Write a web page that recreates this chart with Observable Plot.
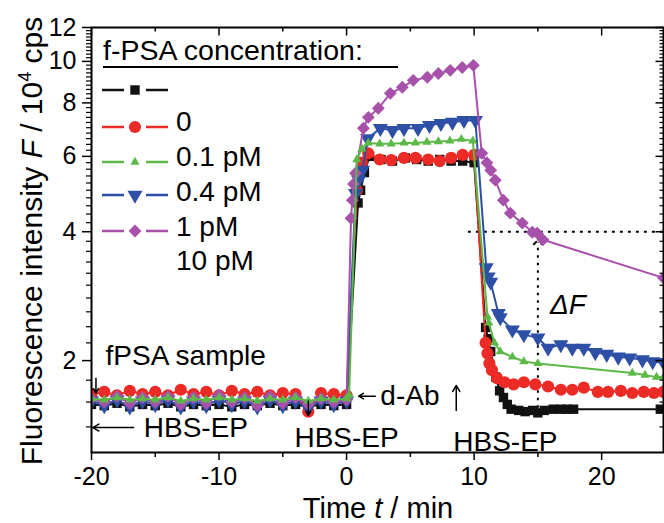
<!DOCTYPE html>
<html><head><meta charset="utf-8">
<script src="https://cdn.jsdelivr.net/npm/d3@7"></script>
<script src="https://cdn.jsdelivr.net/npm/@observablehq/plot@0.6"></script>
<style>
body{margin:0;background:#fff;}
#chart{width:664px;height:523px;}
svg{font-family:"Liberation Sans",Arial,sans-serif;}
</style></head><body><div id="chart"></div>
<script>
// ---------- data (F in 10^4 cps, t in min) ----------
const baseT = [-20,-19,-18,-17,-16,-15,-14,-13,-12,-11,-10,-9,-8,-7,-6,-5,-4,-3,-2,-1,0];

const blackT = [0.9,1.1,1.4,1.8,2.7,3.6,4.6,5.5,6.4,7.3,8.2,9.1,10.0,
  10.9,11.1,11.3,11.7,12.0,12.3,12.6,12.9,13.5,14.0,14.6,15.0,15.5,16.2,16.8,17.3,17.8,24.6];
const blackBase = [1.58,1.57,1.59,1.56,1.58,1.57,1.59,1.56,1.58,1.57,1.58,1.56,1.58,1.57,1.59,1.57,1.58,1.56,1.58,1.57,1.58];
const blackF = [4.67,5.0,5.5,6.0,5.9,5.85,5.95,5.9,5.85,5.9,5.85,5.85,5.8,
  2.39,2.25,2.1,1.83,1.70,1.64,1.58,1.54,1.53,1.52,1.53,1.51,1.53,1.54,1.54,1.54,1.54,1.54];

const redT = [0.8,1.2,1.7,2.6,3.5,4.5,5.4,6.4,7.3,8.2,9.1,10.0,
  10.9,11.05,11.2,11.4,11.8,12.4,13.1,13.9,14.8,15.8,16.8,17.7,18.6,19.7,20.5,21.5,22.4,23.3,24.1,24.85];
const redBase = [1.67,1.69,1.66,1.70,1.67,1.69,1.66,1.71,1.67,1.69,1.66,1.70,1.67,1.69,1.66,1.68,1.67,1.52,1.68,1.67,1.66];
const redF = [5.0,5.8,6.1,5.9,5.88,5.95,5.95,5.9,5.85,5.95,6.05,6.05,
  2.2,2.08,1.97,1.90,1.82,1.78,1.76,1.78,1.76,1.74,1.71,1.71,1.73,1.69,1.69,1.70,1.68,1.69,1.68,1.69];

const greenT = [0.2,0.8,1.2,1.7,2.6,3.5,4.5,5.4,6.3,7.2,8.1,9.0,9.9,
  11.05,11.15,11.6,12.05,13.0,13.9,15.0,22.4,23.4,24.3,24.85];
const greenBase = [1.63,1.62,1.64,1.62,1.63,1.62,1.64,1.61,1.63,1.62,1.64,1.62,1.63,1.61,1.63,1.62,1.64,1.61,1.63,1.62,1.63];
const greenF = [1.66,5.9,6.25,6.45,6.42,6.42,6.45,6.45,6.48,6.5,6.52,6.58,6.52,
  2.53,2.45,2.20,2.10,2.04,1.99,1.97,1.87,1.85,1.83,1.83];

const blueT = [0.7,0.95,1.25,1.65,2.65,3.6,4.5,5.6,6.5,7.4,8.3,9.2,10.1,
  10.95,11.1,11.3,11.9,12.05,13.0,13.9,15.0,15.8,16.8,17.7,18.6,19.5,20.4,21.3,22.2,23.2,24.0,24.85];
const blueBase = [1.61,1.57,1.62,1.56,1.61,1.58,1.62,1.56,1.61,1.57,1.62,1.58,1.61,1.56,1.62,1.57,1.61,1.55,1.61,1.58,1.61];
const blueF = [4.92,5.28,5.57,6.6,6.98,6.9,6.98,6.98,7.09,7.17,7.21,7.28,7.28,
  3.3,3.14,3.05,2.58,2.52,2.36,2.30,2.26,2.14,2.18,2.14,2.14,2.09,2.07,2.04,2.03,2.01,1.99,1.98];

const purpleT = [0.35,0.45,0.55,0.7,1.32,1.71,2.49,3.43,4.37,5.23,6.33,7.2,8.13,9.07,9.94,
  10.6,11.0,11.3,11.66,12.29,12.84,13.78,14.56,14.95,15.4,24.85];
const purpleBase = [1.63,1.60,1.65,1.59,1.64,1.60,1.65,1.58,1.64,1.59,1.66,1.60,1.64,1.57,1.65,1.59,1.64,1.58,1.63,1.60,1.62];
const purpleF = [4.30,4.74,5.17,5.48,6.98,7.40,7.77,8.42,8.70,9.03,9.18,9.37,9.53,9.68,9.79,
  6.1,5.8,5.57,5.28,4.74,4.42,4.19,3.99,3.97,3.83,3.12];

const seriesNames = ["black","red","green","blue","purple"];
const seriesColors = ["#111111","#ec2a26","#5cb948","#2e4fa6","#a851ab"];
const legendLabels = ["0","0.1 pM","0.4 pM","1 pM","10 pM"];
const legendTitle = "f-PSA concentration:";

const xMajorTicks = [-20,-10,0,10,20];
const xMinorTicks = [-15,-5,5,15];
const yMajorTicks = [2,4,6,8,10,12];
const yMinorTicks = d3.range(7,60).filter(i => i % 10 !== 0).map(i => i/5);

const annotStart = [
  {t:-18.9, F:2.05, label:"fPSA sample"},
  {t:-15.9, F:1.395, label:"HBS-EP"},
  {t:2.65, F:1.656, label:"d-Ab"}
];
const annotMiddle = [
  {t:0.0, F:1.32, label:"HBS-EP"},
  {t:12.45, F:1.294, label:"HBS-EP"}
];
const annotDelta = [{t:15.95, F:2.70, label:"ΔF"}];
const arrowsData = [
  {t1:-16.7, F1:1.395, t2:-19.9, F2:1.395},
  {t1:2.25, F1:1.652, t2:0.95, F2:1.652},
  {t1:8.6, F1:1.53, t2:8.6, F2:1.75},
  {t1:-3.0, F1:1.61, t2:-3.0, F2:1.49},
  {t1:-19.65, F1:1.82, t2:-19.65, F2:1.68}
];
const dottedH = [{F:4, t1:9.55, t2:24.85}];
const dottedV = [{t:15, F1:1.553, F2:3.78}];

// ---------- build ----------
function rows(ts, vs){ return ts.map((t,i)=>({t, F: vs[i]})); }
const sets = {
  black: rows(baseT.concat(blackT), blackBase.concat(blackF)),
  red: rows(baseT.concat(redT), redBase.concat(redF)),
  green: rows(baseT.concat(greenT), greenBase.concat(greenF)),
  blue: rows(baseT.concat(blueT), blueBase.concat(blueF)),
  purple: rows(baseT.concat(purpleT), purpleBase.concat(purpleF))
};
const sqrt3 = Math.sqrt(3);
const triDown = {draw(ctx, size){ const h = Math.sqrt(size/(sqrt3*3)); ctx.moveTo(0,2*h); ctx.lineTo(-sqrt3*h,-h); ctx.lineTo(sqrt3*h,-h); ctx.closePath(); }};
const symbols = {black:d3.symbolSquare, red:d3.symbolCircle, green:d3.symbolTriangle, blue:triDown, purple:d3.symbolDiamond2};
const radii = {black:5.3, red:6.1, green:3.4, blue:5.6, purple:5.8};
const tickSym = (dx, dy) => ({draw(ctx){ ctx.moveTo(0,0); ctx.lineTo(dx,dy); }});

const order = ["black","red","blue","purple","green"];
const dataMarks = [];
for (const s of order) {
  const c = seriesColors[seriesNames.indexOf(s)];
  dataMarks.push(Plot.line(sets[s], {x:"t", y:"F", stroke:c, strokeWidth:2, clip:true}));
  dataMarks.push(Plot.dot(sets[s], {x:"t", y:"F", symbol:symbols[s], r:radii[s], fill:c, stroke:"none", clip:true}));
}

const font = "Liberation Sans, Arial, sans-serif";
const chart = Plot.plot({
  width: 664, height: 523,
  marginLeft: 91, marginRight: 1, marginTop: 27, marginBottom: 71,
  style: {fontFamily: font, background: "white", color: "black", overflow: "visible"},
  x: {domain: [-20, 24.85]},
  y: {type: "log", domain: [1.22, 12]},
  marks: [
    Plot.ruleY(dottedH, {y:"F", x1:"t1", x2:"t2", stroke:"black", strokeWidth:2, strokeDasharray:"3,5"}),
    Plot.link(dottedV, {x1:"t", x2:"t", y1:"F1", y2:"F2", stroke:"black", strokeWidth:2, strokeDasharray:"2.5,5", markerStart:"arrow", markerEnd:"arrow"}),
    ...dataMarks,
    Plot.arrow(arrowsData, {x1:"t1", y1:"F1", x2:"t2", y2:"F2", stroke:"black", strokeWidth:1.5, headLength:7}),
    Plot.text(annotStart, {x:"t", y:"F", text:"label", textAnchor:"start", fontSize:28, fill:"black"}),
    Plot.text(annotMiddle, {x:"t", y:"F", text:"label", textAnchor:"middle", fontSize:28, fill:"black"}),
    Plot.text(annotDelta, {x:"t", y:"F", text:"label", textAnchor:"start", fontSize:28, fontStyle:"italic", fill:"black"}),
    Plot.axisX({ticks:xMajorTicks, tickSize:8, tickPadding:7, fontSize:25, label:null, strokeWidth:1.5, tickFormat:d=>String(d)}),
    Plot.axisX({ticks:xMinorTicks, tickSize:5, tickFormat:()=>"", label:null, strokeWidth:1.5}),
    Plot.axisY({ticks:yMajorTicks, tickSize:9, tickPadding:6, fontSize:25, label:null, strokeWidth:1.5, tickFormat:d=>String(d)}),
    Plot.axisY({ticks:yMinorTicks, tickSize:5, tickFormat:()=>"", label:null, strokeWidth:1.2}),
    Plot.dot(xMajorTicks, {x:d=>d, frameAnchor:"top", symbol:tickSym(0,8), stroke:"black", fill:"none", strokeWidth:1.5}),
    Plot.dot(xMinorTicks, {x:d=>d, frameAnchor:"top", symbol:tickSym(0,4), stroke:"black", fill:"none", strokeWidth:1.5}),
    Plot.dot(yMajorTicks, {y:d=>d, frameAnchor:"right", symbol:tickSym(-8,0), stroke:"black", fill:"none", strokeWidth:1.5}),
    Plot.dot(yMinorTicks, {y:d=>d, frameAnchor:"right", symbol:tickSym(-4,0), stroke:"black", fill:"none", strokeWidth:1.2}),
    Plot.frame({stroke:"black", strokeWidth:2})
  ]
});
document.getElementById("chart").appendChild(chart);

// ---------- legend & axis titles ----------
const svg = d3.select(chart);
const g = svg.append("g").attr("font-family", font).attr("fill", "black").attr("text-anchor", "start");
g.append("text").attr("x",103).attr("y",60).attr("font-size",28.5).attr("text-anchor","start").text(legendTitle);
g.append("line").attr("x1",103).attr("x2",398).attr("y1",67).attr("y2",67).attr("stroke","black").attr("stroke-width",2);
const rowY = [90,127,162,195,231];
seriesNames.forEach((s,i) => {
  const y = rowY[i], c = seriesColors[i];
  g.append("line").attr("x1",102).attr("x2",124).attr("y1",y).attr("y2",y).attr("stroke",c).attr("stroke-width",2.5);
  g.append("line").attr("x1",146).attr("x2",168).attr("y1",y).attr("y2",y).attr("stroke",c).attr("stroke-width",2.5);
  g.append("path").attr("transform",`translate(135,${y})`).attr("fill",c)
    .attr("d", d3.symbol().type(symbols[s]).size(Math.PI*radii[s]*radii[s])());
});
const labY = [131,166,201,236,270];
legendLabels.forEach((l,i) => {
  g.append("text").attr("x",176).attr("y",labY[i]).attr("font-size",28).attr("text-anchor","start").text(l);
});
// x title
const xt = g.append("text").attr("x",378).attr("y",518).attr("text-anchor","middle").attr("font-size",29);
xt.append("tspan").text("Time ");
xt.append("tspan").attr("font-style","italic").text("t");
xt.append("tspan").text(" / min");
// y title
const yt = g.append("text").attr("transform","translate(42,241) rotate(-90)").attr("text-anchor","middle").attr("font-size",30);
yt.append("tspan").text("Fluorescence intensity ");
yt.append("tspan").attr("font-style","italic").text("F");
yt.append("tspan").text(" / 10");
yt.append("tspan").attr("font-size",18).attr("dy",-11).text("4");
yt.append("tspan").attr("dy",11).text(" cps");
</script></body></html>
